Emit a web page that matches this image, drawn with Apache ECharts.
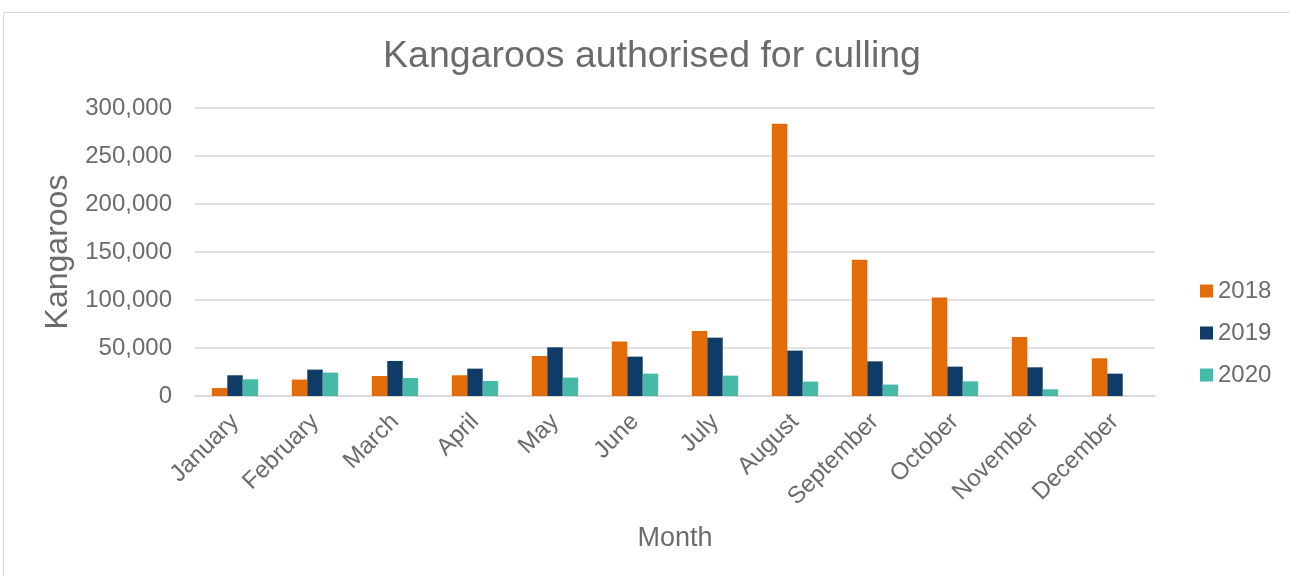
<!DOCTYPE html>
<html>
<head>
<meta charset="utf-8">
<script src="https://cdn.jsdelivr.net/npm/echarts@6/dist/echarts.min.js"></script>
<style>
html,body{margin:0;padding:0;background:#fff;}
#chart{width:1290px;height:576px;}
</style>
</head>
<body>
<div id="chart"></div>
<script>
const months = ['January','February','March','April','May','June','July','August','September','October','November','December'];
const seriesNames = ['2018','2019','2020'];
const v2018 = [8300, 17100, 20800, 21600, 41700, 56700, 67700, 283700, 142000, 102500, 61500, 39300];
const v2019 = [21600, 27500, 36500, 28500, 50700, 41000, 60800, 47300, 36100, 30600, 29900, 23300];
const v2020 = [17400, 24400, 18800, 15600, 19200, 23300, 21200, 15000, 11900, 15300, 7000, null];
const yTicks = [0, 50000, 100000, 150000, 200000, 250000, 300000];
const colors = ['#E36C0A', '#0F3C66', '#47B9A9'];

const textColor = '#6b6b6b';
const font = 'Liberation Sans, Arial, sans-serif';

const chart = echarts.init(document.getElementById('chart'));
const values = [v2018, v2019, v2020];
chart.setOption({
  animation: false,
  textStyle: {fontFamily: font},
  title: {
    text: 'Kangaroos authorised for culling',
    left: 647, top: 33, textAlign: 'center',
    textStyle: {fontSize: 37.5, fontWeight: 'normal', color: textColor, fontFamily: font}
  },
  graphic: [{
    type: 'rect', silent: true,
    shape: {x: 3.5, y: 12.5, width: 1400, height: 700},
    style: {fill: 'none', stroke: '#d9d9d9', lineWidth: 1}
  }],
  legend: {
    orient: 'vertical', left: 1195, top: 274,
    itemWidth: 13, itemHeight: 13, itemGap: 18,
    icon: 'rect',
    data: seriesNames,
    textStyle: {fontSize: 24, color: textColor, fontFamily: font}
  },
  grid: {left: 195, right: 135, top: 108, bottom: 180, containLabel: false},
  xAxis: {
    type: 'category', data: months,
    name: 'Month', nameLocation: 'middle', nameGap: 129,
    nameTextStyle: {fontSize: 27, color: textColor, fontFamily: font},
    axisLine: {lineStyle: {color: '#d9d9d9', width: 1.5}},
    axisTick: {show: false},
    axisLabel: {rotate: 45, fontSize: 24, color: textColor, margin: 22, fontFamily: font, interval: 0}
  },
  yAxis: {
    type: 'value', min: 0, max: 300000, interval: 50000,
    name: 'Kangaroos', nameLocation: 'middle', nameGap: 113,
    nameTextStyle: {fontSize: 32, color: textColor, fontFamily: font},
    axisLine: {show: false}, axisTick: {show: false},
    splitLine: {lineStyle: {color: '#d9d9d9', width: 1.5}},
    axisLabel: {
      fontSize: 24, color: textColor, margin: 23, fontFamily: font,
      formatter: v => yTicks.includes(v) ? v.toLocaleString('en-US') : ''
    }
  },
  series: seriesNames.map((n, i) => ({
    name: n, type: 'bar', data: values[i],
    barGap: '0%', barCategoryGap: '42%',
    itemStyle: {color: colors[i]}
  }))
});
</script>
</body>
</html>
